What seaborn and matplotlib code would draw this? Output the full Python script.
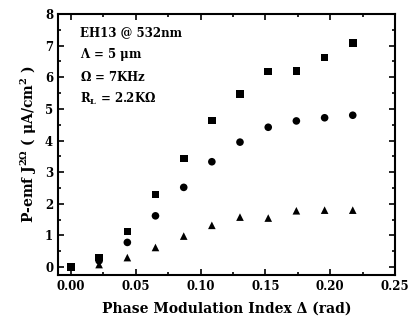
import matplotlib
matplotlib.use("Agg")
import matplotlib.pyplot as plt
import seaborn as sns
import pandas as pd
from matplotlib.ticker import MultipleLocator, FormatStrFormatter

delta = [0.0, 0.0217, 0.0435, 0.0652, 0.087, 0.1087, 0.1304, 0.1522, 0.1739, 0.1957, 0.2174]
squares = [0.0, 0.30, 1.13, 2.30, 3.43, 4.63, 5.48, 6.18, 6.20, 6.63, 7.08]
circles = [0.0, 0.20, 0.78, 1.62, 2.52, 3.33, 3.95, 4.42, 4.62, 4.72, 4.80]
triangles = [0.0, 0.08, 0.30, 0.62, 0.98, 1.32, 1.58, 1.55, 1.78, 1.80, 1.80]

df = pd.concat([
    pd.DataFrame({"x": delta, "y": squares, "s": "sq"}),
    pd.DataFrame({"x": delta, "y": circles, "s": "ci"}),
    pd.DataFrame({"x": delta, "y": triangles, "s": "tr"}),
])

sns.set_theme(style="ticks")
plt.rcParams["font.family"] = ["DejaVu Serif"]
plt.rcParams["font.weight"] = "bold"
plt.rcParams["mathtext.fontset"] = "dejavuserif"
plt.rcParams["mathtext.default"] = "bf"
for k in ["text.color", "axes.labelcolor", "xtick.color", "ytick.color", "axes.edgecolor"]:
    plt.rcParams[k] = "black"

fig = plt.figure(figsize=(4.12, 3.22), dpi=100)
ax = fig.add_axes([58/412, 1-275/322, (395-58)/412, (275-14)/322])

sns.scatterplot(data=df, x="x", y="y", style="s", markers={"sq": "s", "ci": "o", "tr": "^"},
                color="black", s=30, edgecolor="black", linewidth=0, legend=False, ax=ax)

ax.set_xlim(-0.01, 0.25)
ax.set_ylim(-0.25, 8)
ax.xaxis.set_major_locator(MultipleLocator(0.05))
ax.xaxis.set_minor_locator(MultipleLocator(0.025))
ax.yaxis.set_major_locator(MultipleLocator(1))
ax.yaxis.set_minor_locator(MultipleLocator(0.5))
ax.xaxis.set_major_formatter(FormatStrFormatter("%.2f"))
ax.tick_params(which="both", direction="in", top=True, right=True, width=1.2, labelsize=8.5, colors="black")
ax.tick_params(which="major", length=4)
ax.tick_params(which="minor", length=2.5)
for lab in ax.get_xticklabels() + ax.get_yticklabels():
    lab.set_fontweight("bold")
for sp in ax.spines.values():
    sp.set_linewidth(1.5)
    sp.set_color("black")

ax.set_xlabel("Phase Modulation Index Δ (rad)", fontsize=10, fontweight="bold", labelpad=6)
ax.set_ylabel(r"P-emf J$^{2\Omega}$ ( $\mu$A/cm$^{2}$ )", fontsize=10, fontweight="bold", labelpad=4)

fs = 8.5
ax.text(0.065, 0.915, "EH13 @ 532nm", transform=ax.transAxes, fontsize=fs, fontweight="bold")
ax.text(0.065, 0.83, r"$\Lambda$ = 5 $\mu$m", transform=ax.transAxes, fontsize=fs, fontweight="bold")
ax.text(0.065, 0.745, r"$\Omega$ = 7KHz", transform=ax.transAxes, fontsize=fs, fontweight="bold")
ax.text(0.065, 0.66, r"R$_{\rm L}$ = 2.2K$\Omega$", transform=ax.transAxes, fontsize=fs, fontweight="bold")

fig.savefig("out.png", dpi=100)
